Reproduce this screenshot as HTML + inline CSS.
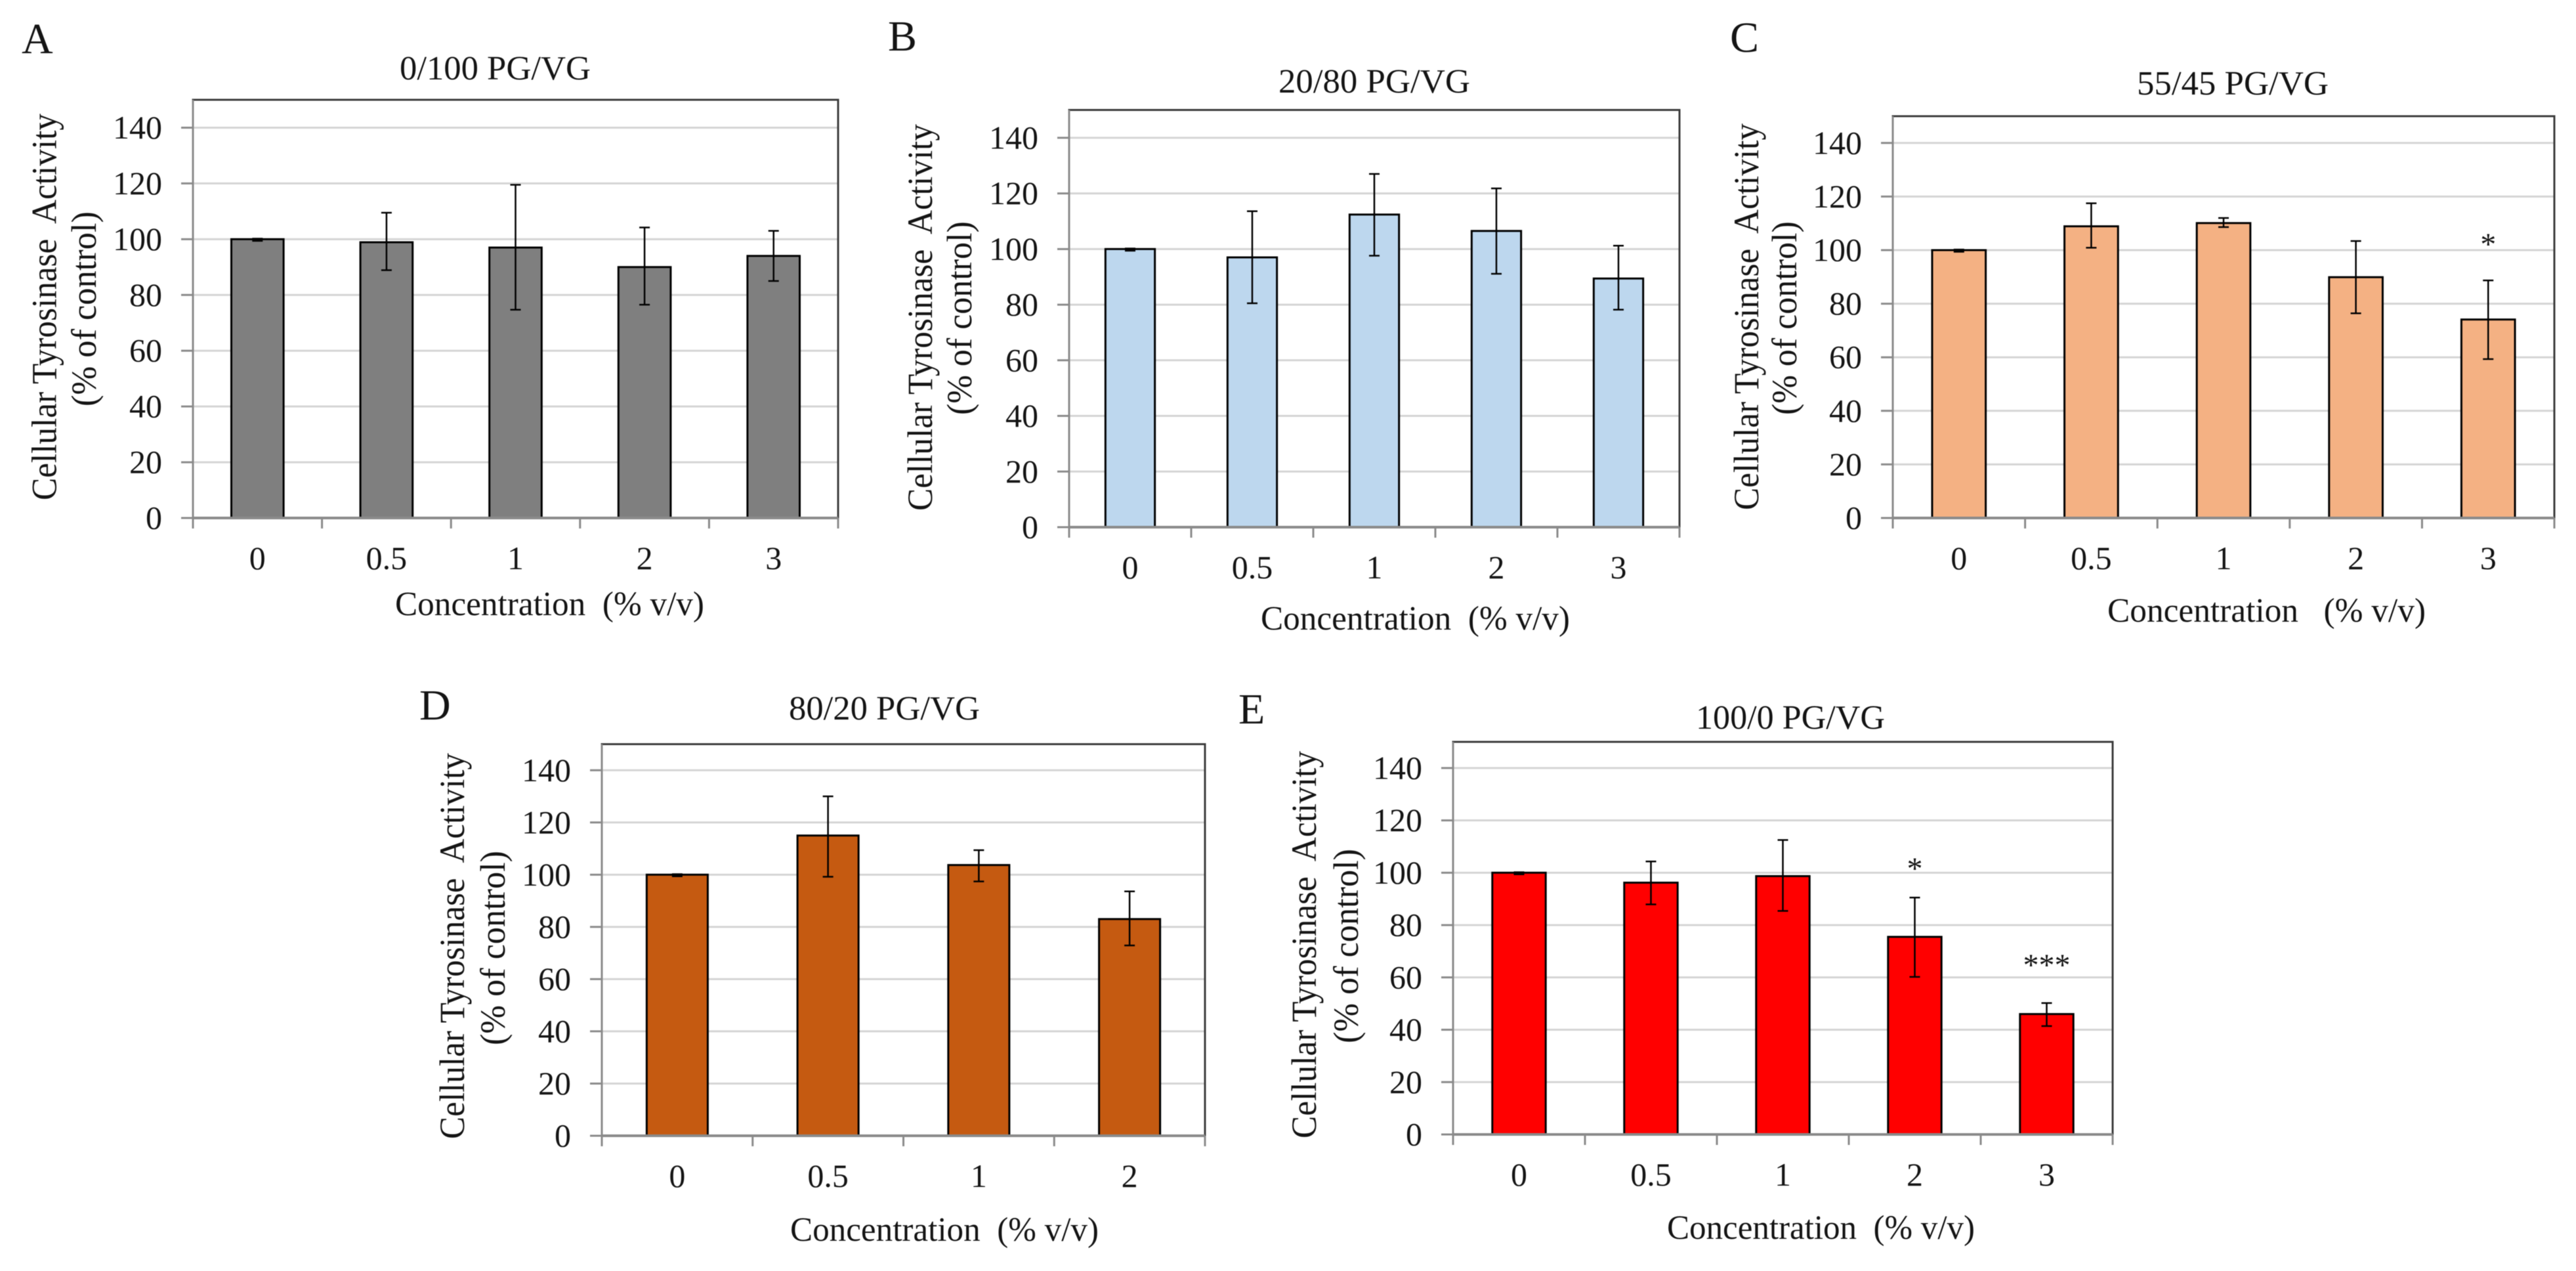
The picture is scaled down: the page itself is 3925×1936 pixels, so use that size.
<!DOCTYPE html>
<html lang="en">
<head>
<meta charset="utf-8">
<title>Cellular Tyrosinase Activity by PG/VG ratio</title>
<style>
html,body{margin:0;padding:0;background:#fff;}
svg{display:block;filter:blur(0.6px);}
text{font-family:"Liberation Serif",serif;fill:#141414;}
.letter{font-size:66px;}
.title{font-size:52px;}
.ytitle{font-size:54px;}
.xtitle{font-size:52px;}
</style>
</head>
<body>
<svg id="figure" xmlns="http://www.w3.org/2000/svg" width="3925" height="1936" viewBox="0 0 3925 1936">
<rect x="0" y="0" width="3925" height="1936" fill="#ffffff"/>

<g id="panel-a">
<text class="letter" x="33" y="81">A</text>
<text class="title" x="609" y="121" textLength="291" lengthAdjust="spacingAndGlyphs">0/100 PG/VG</text>
<text class="ytitle" xml:space="preserve" transform="translate(85.5,762) rotate(-90)" textLength="589" lengthAdjust="spacingAndGlyphs">Cellular Tyrosinase  Activity</text>
<text class="ytitle" transform="translate(146,619) rotate(-90)" textLength="297" lengthAdjust="spacingAndGlyphs">(% of control)</text>
<text class="xtitle" xml:space="preserve" x="602" y="937" textLength="471" lengthAdjust="spacingAndGlyphs">Concentration  (% v/v)</text>
</g>

<g id="panel-b">
<text class="letter" x="1353" y="77">B</text>
<text class="title" x="1948" y="141" textLength="292" lengthAdjust="spacingAndGlyphs">20/80 PG/VG</text>
<text class="ytitle" xml:space="preserve" transform="translate(1420,778) rotate(-90)" textLength="589" lengthAdjust="spacingAndGlyphs">Cellular Tyrosinase  Activity</text>
<text class="ytitle" transform="translate(1480,632) rotate(-90)" textLength="295" lengthAdjust="spacingAndGlyphs">(% of control)</text>
<text class="xtitle" xml:space="preserve" x="1921" y="959" textLength="471" lengthAdjust="spacingAndGlyphs">Concentration  (% v/v)</text>
</g>

<g id="panel-c">
<text class="letter" x="2636" y="79">C</text>
<text class="title" x="3256" y="144" textLength="292" lengthAdjust="spacingAndGlyphs">55/45 PG/VG</text>
<text class="ytitle" xml:space="preserve" transform="translate(2679,777) rotate(-90)" textLength="589" lengthAdjust="spacingAndGlyphs">Cellular Tyrosinase  Activity</text>
<text class="ytitle" transform="translate(2737,632) rotate(-90)" textLength="295" lengthAdjust="spacingAndGlyphs">(% of control)</text>
<text class="xtitle" xml:space="preserve" x="3211" y="947" textLength="485" lengthAdjust="spacingAndGlyphs">Concentration   (% v/v)</text>
</g>

<g id="panel-d">
<text class="letter" x="639" y="1096">D</text>
<text class="title" x="1202" y="1096" textLength="291" lengthAdjust="spacingAndGlyphs">80/20 PG/VG</text>
<text class="ytitle" xml:space="preserve" transform="translate(707,1735) rotate(-90)" textLength="588" lengthAdjust="spacingAndGlyphs">Cellular Tyrosinase  Activity</text>
<text class="ytitle" transform="translate(769,1592) rotate(-90)" textLength="296" lengthAdjust="spacingAndGlyphs">(% of control)</text>
<text class="xtitle" xml:space="preserve" x="1204" y="1890" textLength="470" lengthAdjust="spacingAndGlyphs">Concentration  (% v/v)</text>
</g>

<g id="panel-e">
<text class="letter" x="1887" y="1102">E</text>
<text class="title" x="2584" y="1110" textLength="288" lengthAdjust="spacingAndGlyphs">100/0 PG/VG</text>
<text class="ytitle" xml:space="preserve" transform="translate(2005,1734) rotate(-90)" textLength="590" lengthAdjust="spacingAndGlyphs">Cellular Tyrosinase  Activity</text>
<text class="ytitle" transform="translate(2069,1589) rotate(-90)" textLength="296" lengthAdjust="spacingAndGlyphs">(% of control)</text>
<text class="xtitle" xml:space="preserve" x="2540" y="1887" textLength="469" lengthAdjust="spacingAndGlyphs">Concentration  (% v/v)</text>
</g>
</svg>

<script>
// Shared y axis
const yTickLabels = [0, 20, 40, 60, 80, 100, 120, 140];
const yAxisMax = 150;

// Panel A: 0/100 PG/VG
const categoriesA = ['0', '0.5', '1', '2', '3'];
const valuesA = [100, 98.9, 97, 90, 94];
const errorHighA = [100.2, 109.5, 119.5, 104.2, 103];
const errorLowA = [99.4, 88.9, 74.7, 76.5, 85];
const marksA = ['', '', '', '', ''];
const markLevelsA = [0, 0, 0, 0, 0];

// Panel B: 20/80 PG/VG
const categoriesB = ['0', '0.5', '1', '2', '3'];
const valuesB = [100, 97, 112.4, 106.5, 89.4];
const errorHighB = [100.2, 113.6, 127, 121.8, 101.2];
const errorLowB = [99.4, 80.5, 97.6, 91.1, 78.2];
const marksB = ['', '', '', '', ''];
const markLevelsB = [0, 0, 0, 0, 0];

// Panel C: 55/45 PG/VG
const categoriesC = ['0', '0.5', '1', '2', '3'];
const valuesC = [100, 108.9, 110.1, 89.9, 74.1];
const errorHighC = [100.2, 117.5, 112, 103.4, 88.7];
const errorLowC = [99.4, 100.9, 108.6, 76.4, 59.3];
const marksC = ['', '', '', '', '*'];
const markLevelsC = [0, 0, 0, 0, 103.7];

// Panel D: 80/20 PG/VG
const categoriesD = ['0', '0.5', '1', '2'];
const valuesD = [100, 115, 103.7, 83];
const errorHighD = [100.2, 130, 109.4, 93.6];
const errorLowD = [99.4, 99.2, 97.4, 72.9];
const marksD = ['', '', '', ''];
const markLevelsD = [0, 0, 0, 0];

// Panel E: 100/0 PG/VG
const categoriesE = ['0', '0.5', '1', '2', '3'];
const valuesE = [100, 96.2, 98.7, 75.5, 46];
const errorHighE = [100.2, 104.3, 112.5, 90.5, 50.2];
const errorLowE = [99.4, 87.9, 85.4, 60.2, 41.4];
const marksE = ['', '', '', '*', '***'];
const markLevelsE = [0, 0, 0, 103.1, 66.2];

const SVG_NS = 'http://www.w3.org/2000/svg';

function make(parent, tag, attrs) {
  const node = document.createElementNS(SVG_NS, tag);
  for (const key in attrs) {
    node.setAttribute(key, attrs[key]);
  }
  parent.appendChild(node);
  return node;
}

function drawPanel(cfg) {
  const group = document.getElementById(cfg.id);
  const plotHeight = cfg.y0 - cfg.yTop;
  const yScale = function (v) { return cfg.y0 - (v / yAxisMax) * plotHeight; };
  const band = (cfg.right - cfg.left) / cfg.categories.length;
  const xScale = function (i) { return cfg.left + band * (i + 0.5); };
  const barWidth = band * 0.405;
  const capHalf = 8;

  yTickLabels.forEach(function (tick) {
    const y = yScale(tick);
    if (tick > 0) {
      const grid = make(group, 'line', { x1: cfg.left, x2: cfg.right, y1: y, y2: y, stroke: '#d4d4d4', 'stroke-width': 3 });
      
      
    }
    const tickMark = make(group, 'line', { x1: cfg.left - 18, x2: cfg.left, y1: y, y2: y, stroke: '#8a8a8a', 'stroke-width': 3 });
    
    
    const label = make(group, 'text', { x: cfg.left - 47, y: y + 16.5, 'text-anchor': 'end', 'font-size': 50 });
    label.textContent = String(tick);
    
    
  });

  const frame = make(group, 'rect', { x: cfg.left, y: cfg.yTop, width: cfg.right - cfg.left, height: plotHeight, fill: 'none', stroke: '#3c3c3c', 'stroke-width': 3 });
  
  

  const yAxis = make(group, 'line', { x1: cfg.left, x2: cfg.left, y1: cfg.yTop, y2: cfg.y0 + 16, stroke: '#8a8a8a', 'stroke-width': 3 });
  
  

  cfg.categories.forEach(function (category, i) {
    const cx = xScale(i);
    const top = yScale(cfg.values[i]);
    const bar = make(group, 'rect', { x: cx - barWidth / 2, y: top, width: barWidth, height: cfg.y0 - top, fill: cfg.color, stroke: '#000000', 'stroke-width': 3 });
    
    

    const yHigh = yScale(cfg.errorHigh[i]);
    const yLow = yScale(cfg.errorLow[i]);
    const stem = make(group, 'line', { x1: cx, x2: cx, y1: yHigh, y2: yLow, stroke: '#000000', 'stroke-width': 2.5 });
    
    
    const capTop = make(group, 'line', { x1: cx - capHalf, x2: cx + capHalf, y1: yHigh, y2: yHigh, stroke: '#000000', 'stroke-width': 2.5 });
    
    
    const capLow = make(group, 'line', { x1: cx - capHalf, x2: cx + capHalf, y1: yLow, y2: yLow, stroke: '#000000', 'stroke-width': 2.5 });
    
    

    const label = make(group, 'text', { x: cx, y: cfg.y0 + cfg.xLabelGap, 'text-anchor': 'middle', 'font-size': 50 });
    label.textContent = category;
    
    

    if (cfg.marks[i]) {
      const mark = make(group, 'text', { x: cx, y: yScale(cfg.markLevels[i]) + 22, 'text-anchor': 'middle', 'font-size': 48 });
      mark.textContent = cfg.marks[i];
      
      
    }
  });

  for (let i = 0; i <= cfg.categories.length; i++) {
    const x = cfg.left + band * i;
    const tickMark = make(group, 'line', { x1: x, x2: x, y1: cfg.y0, y2: cfg.y0 + 16, stroke: '#8a8a8a', 'stroke-width': 3 });
    
    
  }

  const xAxis = make(group, 'line', { x1: cfg.left, x2: cfg.right, y1: cfg.y0, y2: cfg.y0, stroke: '#8a8a8a', 'stroke-width': 4 });
  
  
}

drawPanel({ id: 'panel-a', left: 294, right: 1277, yTop: 152, y0: 789, xLabelGap: 78, color: '#7f7f7f', categories: categoriesA, values: valuesA, errorHigh: errorHighA, errorLow: errorLowA, marks: marksA, markLevels: markLevelsA });
drawPanel({ id: 'panel-b', left: 1629, right: 2559, yTop: 167.5, y0: 803, xLabelGap: 78, color: '#bdd7ee', categories: categoriesB, values: valuesB, errorHigh: errorHighB, errorLow: errorLowB, marks: marksB, markLevels: markLevelsB });
drawPanel({ id: 'panel-c', left: 2884, right: 3892, yTop: 177, y0: 789, xLabelGap: 78, color: '#f4b183', categories: categoriesC, values: valuesC, errorHigh: errorHighC, errorLow: errorLowC, marks: marksC, markLevels: markLevelsC });
drawPanel({ id: 'panel-d', left: 917, right: 1836, yTop: 1133.5, y0: 1730, xLabelGap: 78, color: '#c55a11', categories: categoriesD, values: valuesD, errorHigh: errorHighD, errorLow: errorLowD, marks: marksD, markLevels: markLevelsD });
drawPanel({ id: 'panel-e', left: 2214, right: 3219, yTop: 1130, y0: 1728, xLabelGap: 78, color: '#ff0000', categories: categoriesE, values: valuesE, errorHigh: errorHighE, errorLow: errorLowE, marks: marksE, markLevels: markLevelsE });
</script>
</body>
</html>
